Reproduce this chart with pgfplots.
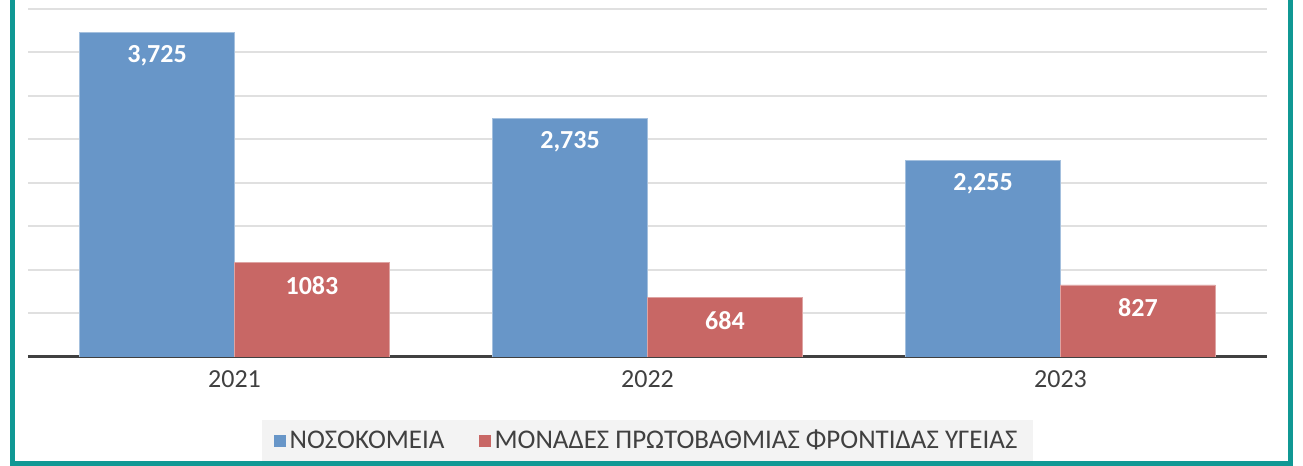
\documentclass[border=0pt]{standalone}
\usepackage{fontspec}
\setmainfont{Carlito}
\usepackage{pgfplots}
\pgfplotsset{compat=1.18}
\definecolor{barblue}{RGB}{104,150,200}
\definecolor{barred}{RGB}{200,103,101}
\definecolor{frameteal}{RGB}{16,152,148}
\definecolor{txtgray}{RGB}{64,64,64}
\definecolor{gridgray}{RGB}{224,224,224}
\definecolor{legendgray}{RGB}{243,243,243}
\begin{document}
\begin{tikzpicture}
\useasboundingbox (0,0) rectangle (651.5pt,233pt);
\begin{axis}[
    at={(14pt,54.5pt)}, anchor=south west,
    scale only axis, width=619.5pt, height=178.5pt,
    ybar=0pt, bar width=0.375,
    xmin=-0.5, xmax=2.5, ymin=0, ymax=4100,
    xtick=data, xticklabels={2021,2022,2023},
    x tick label style={font=\fontsize{13}{15}\selectfont, text=txtgray, yshift=-3.5pt},
    ytick={500,1000,...,4000}, yticklabels={},
    ymajorgrids, grid style={gridgray, line width=1pt},
    major tick length=0pt,
    axis x line*=bottom,
    y axis line style={draw=none},
    x axis line style={txtgray, line width=1.5pt, -},
    /pgf/number format/assume math mode=true,
    nodes near coords,
    every node near coord/.append style={anchor=center, yshift=-11.5pt,
        font=\bfseries\fontsize{13}{15}\selectfont, text=white},
    legend style={at={(0.5,0)}, anchor=south, yshift=-52.5pt,
        fill=legendgray, draw=none, legend columns=2,
        font=\fontsize{13.5}{16}\selectfont, text=txtgray,
        inner xsep=6pt, inner ysep=3pt,
        /tikz/every even column/.append style={column sep=15pt}},
    legend image code/.code={\fill[#1, draw=none] (0pt,-3pt) rectangle (6pt,3pt);},
]
\addplot[fill=barblue, draw=barblue!60!white, line width=0.4pt,
    nodes near coords={\pgfmathprintnumber[1000 sep={,}, assume math mode=true]{\pgfplotspointmeta}}]
    coordinates {(0,3725) (1,2735) (2,2255)};
\addplot[fill=barred, draw=barred!60!white, line width=0.4pt,
    nodes near coords={\pgfmathprintnumber[1000 sep={}, assume math mode=true]{\pgfplotspointmeta}}]
    coordinates {(0,1083) (1,684) (2,827)};
\legend{ΝΟΣΟΚΟΜΕΙΑ, ΜΟΝΑΔΕΣ ΠΡΩΤΟΒΑΘΜΙΑΣ ΦΡΟΝΤΙΔΑΣ ΥΓΕΙΑΣ}
\end{axis}
\draw[frameteal, line width=2.5pt] (6.25pt,233pt) -- (6.25pt,1pt) -- (645.25pt,1pt) -- (645.25pt,233pt);
\end{tikzpicture}
\end{document}
